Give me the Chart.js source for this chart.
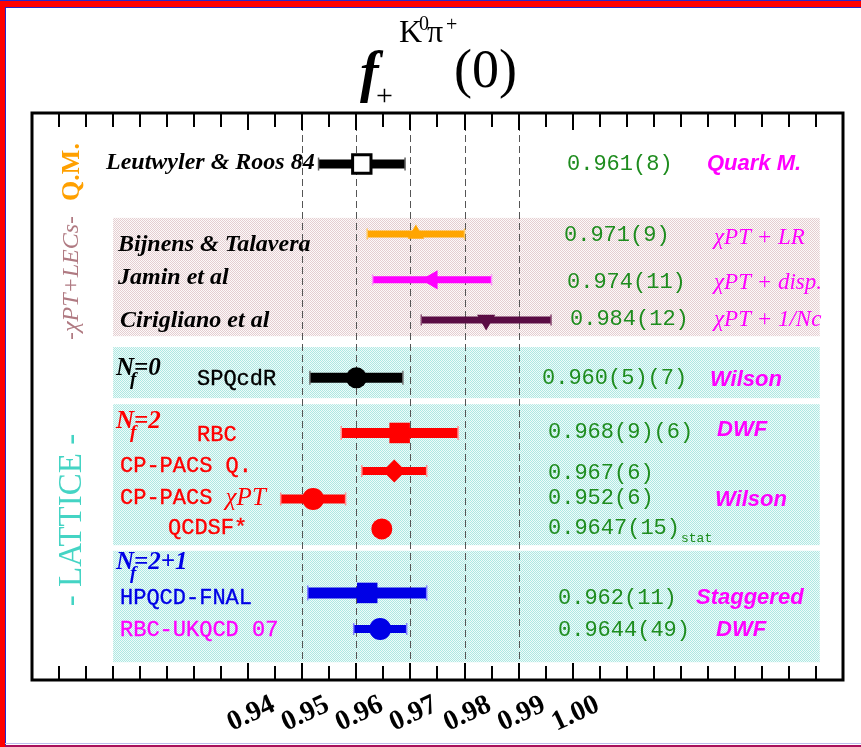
<!DOCTYPE html>
<html>
<head>
<meta charset="utf-8">
<title>f+(0) K0 pi+</title>
<script src="https://cdn.jsdelivr.net/npm/chart.js@4.4.1/dist/chart.umd.min.js"></script>
<style>
  html, body { margin: 0; padding: 0; background: #fff; }
  canvas { display: block; }
</style>
</head>
<body>
<canvas id="fplus" width="861" height="747"></canvas>
<script>
// determinations of f+(0), top to bottom
const entries = ['Leutwyler & Roos 84', 'Bijnens & Talavera', 'Jamin et al', 'Cirigliano et al',
                 'SPQcdR', 'RBC', 'CP-PACS Q.', 'CP-PACS ', 'QCDSF*', 'HPQCD-FNAL', 'RBC-UKQCD 07'];
const central = [0.961, 0.971, 0.974, 0.984, 0.960, 0.968, 0.967, 0.952, 0.9647, 0.962, 0.9644];
const errors  = [0.008, 0.009, 0.011, 0.012, 0.0086, 0.0108, 0.006, 0.006, 0.0015, 0.011, 0.0049];
const quoted  = ['0.961(8)', '0.971(9)', '0.974(11)', '0.984(12)', '0.960(5)(7)', '0.968(9)(6)',
                 '0.967(6)', '0.952(6)', '0.9647(15)', '0.962(11)', '0.9644(49)'];
const methods = ['Quark M.', 'χPT + LR', 'χPT + disp.', 'χPT + 1/Nc', 'Wilson', 'DWF',
                 '', 'Wilson', '', 'Staggered', 'DWF'];
// row slot on the vertical axis (0 = top of frame)
const rowPos  = [1.26, 2.99, 4.12, 5.11, 6.54, 7.90, 8.84, 9.53, 10.27, 11.85, 12.74];
const xTicks  = [0.94, 0.95, 0.96, 0.97, 0.98, 0.99, 1.00];
const guides  = [0.95, 0.96, 0.97, 0.98, 0.99];

// look of each row
const serifBI = 'bold italic 24px "Liberation Serif"';
const mono = '22px "Liberation Mono"';
const rowStyle = [
  {color: '#000000', cap: '#606060', width: 9,  marker: 'rect',     r: 13,   rot: 0,   fill: '#ffffff', bw: 3},
  {color: '#ffa500', cap: '#ffc860', width: 7,  marker: 'triangle', r: 9.5,  rot: 0},
  {color: '#ff00ff', cap: '#ff90ff', width: 7,  marker: 'triangle', r: 11,   rot: -90},
  {color: '#5a0c44', cap: '#8a4c74', width: 7,  marker: 'triangle', r: 10.5, rot: 180},
  {color: '#000000', cap: '#707070', width: 10, marker: 'circle',   r: 10.5, rot: 0},
  {color: '#ff0000', cap: '#ff9090', width: 10, marker: 'rect',     r: 14.5, rot: 0},
  {color: '#ff0000', cap: '#ff9090', width: 8,  marker: 'rectRot',  r: 11.5, rot: 0},
  {color: '#ff0000', cap: '#ff9090', width: 9,  marker: 'circle',   r: 11,   rot: 0},
  {color: '#ff0000', cap: '#ff9090', width: 8,  marker: 'circle',   r: 10.5, rot: 0},
  {color: '#0000e6', cap: '#8080ff', width: 11, marker: 'rect',     r: 14.5, rot: 0},
  {color: '#0000e6', cap: '#8080ff', width: 8,  marker: 'circle',   r: 11,   rot: 0}
];
// heavy: thin outline to thicken the Courier-style labels a little
const labelStyle = [
  {x: 106, dy: -1, font: serifBI, color: '#000'},
  {x: 118, dy: 11, font: serifBI, color: '#000'},
  {x: 118, dy: -2, font: serifBI, color: '#000'},
  {x: 120, dy: 1,  font: serifBI, color: '#000'},
  {x: 197, dy: 1,  font: mono, color: '#000', heavy: true},
  {x: 197, dy: 2,  font: mono, color: '#ff0000', heavy: true},
  {x: 120, dy: -5, font: mono, color: '#ff0000', heavy: true},
  {x: 120, dy: -1, font: mono, color: '#ff0000', heavy: true},
  {x: 168, dy: -1, font: mono, color: '#ff0000', heavy: true},
  {x: 120, dy: 5,  font: mono, color: '#0000e6', heavy: true},
  {x: 120, dy: 1,  font: mono, color: '#ff00ff', heavy: true}
];
const valueStyle = [
  {x: 567, dy: 0}, {x: 564, dy: 1}, {x: 567, dy: 2}, {x: 570, dy: -1}, {x: 542, dy: 0},
  {x: 548, dy: -1}, {x: 548, dy: 2}, {x: 548, dy: -1}, {x: 548, dy: -1}, {x: 558, dy: 5}, {x: 558, dy: 1}
];
const sansBI = 'bold italic 22px "Liberation Sans"';
const serifI = 'italic 23px "Liberation Serif"';
const methodStyle = [
  {x: 707, dy: 0, font: sansBI}, {x: 714, dy: 4, font: serifI}, {x: 714, dy: 3, font: serifI},
  {x: 714, dy: 0, font: serifI}, {x: 710, dy: 2, font: sansBI}, {x: 717, dy: -3, font: sansBI},
  null, {x: 715, dy: 1, font: sansBI}, null, {x: 696, dy: 5, font: sansBI}, {x: 716, dy: 1, font: sansBI}
];
// shaded groups (slot units) spanning this value range
const bandX = [0.915, 1.0457];
const bands = [
  {from: 2.59, to: 5.51, dot: '#e4ced1', bg: '#fdf9f9'},
  {from: 5.78, to: 7.04, dot: '#aee8e2', bg: '#effbfa'},
  {from: 7.19, to: 10.67, dot: '#aee8e2', bg: '#effbfa'},
  {from: 10.81, to: 13.56, dot: '#aee8e2', bg: '#effbfa'}
];

function stipple(ctx, dot, bg) {
  const c = document.createElement('canvas');
  c.width = 2; c.height = 2;
  const g = c.getContext('2d');
  g.fillStyle = bg; g.fillRect(0, 0, 2, 2);
  g.fillStyle = dot; g.fillRect(0, 0, 1, 1); g.fillRect(1, 1, 1, 1);
  return ctx.createPattern(c, 'repeat');
}

function txt(ctx, s, x, y, font, color, align, heavy) {
  ctx.font = font;
  ctx.fillStyle = color;
  ctx.textAlign = align || 'left';
  ctx.fillText(s, x, y);
  if (heavy) {
    ctx.strokeStyle = color;
    ctx.lineWidth = 0.35;
    ctx.strokeText(s, x, y);
  }
  return ctx.measureText(s).width;
}

const decorations = {
  id: 'decorations',
  beforeDraw(chart) {
    const ctx = chart.ctx, W = chart.width, H = chart.height;
    ctx.save();
    ctx.fillStyle = '#ffffff';
    ctx.fillRect(0, 0, W, H);
    ctx.fillStyle = '#ff0000';
    ctx.fillRect(0, 0, W, 7);
    ctx.fillRect(0, 0, 5, H);
    ctx.fillStyle = '#2828c8';
    ctx.fillRect(0, 0, W, 1);
    ctx.fillRect(5, 7, W - 5, 1);
    ctx.fillRect(5, 7, 1, H - 7);
    ctx.fillStyle = '#bcbcec';
    ctx.fillRect(5, H - 4, W - 5, 1);
    ctx.fillStyle = '#a8105c';
    ctx.fillRect(5, H - 2, W - 5, 2);
    ctx.restore();
  },
  beforeDatasetsDraw(chart) {
    const ctx = chart.ctx, xs = chart.scales.x, ys = chart.scales.y, a = chart.chartArea;
    ctx.save();
    const x0 = xs.getPixelForValue(bandX[0]), x1 = xs.getPixelForValue(bandX[1]);
    bands.forEach(b => {
      const y0 = ys.getPixelForValue(b.from), y1 = ys.getPixelForValue(b.to);
      ctx.fillStyle = stipple(ctx, b.dot, b.bg);
      ctx.fillRect(x0, y0, x1 - x0, y1 - y0);
    });
    // dashed guides
    ctx.strokeStyle = '#555555';
    ctx.lineWidth = 1;
    ctx.setLineDash([7, 4]);
    guides.forEach(v => {
      const x = Math.round(xs.getPixelForValue(v)) + 0.5;
      ctx.beginPath();
      ctx.moveTo(x, a.top);
      ctx.lineTo(x, a.bottom);
      ctx.stroke();
    });
    ctx.restore();
  },
  afterDatasetsDraw(chart) {
    const ctx = chart.ctx, xs = chart.scales.x, ys = chart.scales.y, a = chart.chartArea;
    ctx.save();
    // frame and inward ticks, every 0.005
    ctx.strokeStyle = '#000';
    ctx.lineWidth = 3;
    ctx.strokeRect(a.left, a.top, a.right - a.left, a.bottom - a.top);
    ctx.lineWidth = 2;
    for (let k = 181; k <= 209; k++) {
      const v = k * 0.005;
      const x = Math.round(xs.getPixelForValue(v));
      const len = (k % 2 === 0 && k >= 188 && k <= 200) ? 17 : 14;
      ctx.beginPath();
      ctx.moveTo(x, a.top); ctx.lineTo(x, a.top + len);
      ctx.moveTo(x, a.bottom); ctx.lineTo(x, a.bottom - len);
      ctx.stroke();
    }
    ctx.textBaseline = 'middle';
    // tick labels, tilted
    xTicks.forEach(v => {
      ctx.save();
      ctx.translate(xs.getPixelForValue(v) + 3, a.bottom + 34);
      ctx.rotate(-25 * Math.PI / 180);
      txt(ctx, v.toFixed(2), 0, 0, 'bold 28px "Liberation Serif"', '#000', 'center');
      ctx.restore();
    });

    // title f+^{K0 pi+}(0)
    ctx.textBaseline = 'alphabetic';
    txt(ctx, 'f', 360, 91, 'bold italic 56px "Liberation Serif"', '#000');
    txt(ctx, '+', 376, 105, '30px "Liberation Serif"', '#000');
    txt(ctx, 'K', 399, 42, '32px "Liberation Serif"', '#000');
    txt(ctx, '0', 419, 30, '20px "Liberation Serif"', '#000');
    txt(ctx, 'π', 427, 42, '32px "Liberation Serif"', '#000');
    txt(ctx, '+', 446, 31, '20px "Liberation Serif"', '#000');
    txt(ctx, '(0)', 454, 87, '54px "Liberation Serif"', '#000');

    // group captions along the left side
    ctx.textBaseline = 'middle';
    const side = (s, y, font, color) => {
      ctx.save();
      ctx.translate(72, y);
      ctx.rotate(-Math.PI / 2);
      txt(ctx, s, 0, 0, font, color, 'center');
      ctx.restore();
    };
    side('Q.M.', 172, 'bold 26px "Liberation Serif"', '#ffa000');
    side('-χPT+LECs-', 278, 'italic 24px "Liberation Serif"', '#b07a82');
    side('- LATTICE -', 520, '33px "Liberation Serif"', '#44d4c4');

    // flavour headings
    const nf = (y, rest, color) => {
      const f = 'bold italic 25px "Liberation Serif"';
      const w = txt(ctx, 'N', 116, y, f, color);
      txt(ctx, 'f', 116 + w - 4, y + 11, 'bold italic 19px "Liberation Serif"', color);
      txt(ctx, rest, 116 + w, y, f, color);
    };
    nf(369, '=0', '#000');
    nf(422, '=2', '#ff0000');
    nf(563, '=2+1', '#0000e6');

    // per-row text
    entries.forEach((name, i) => {
      const y = ys.getPixelForValue(rowPos[i]);
      const ls = labelStyle[i];
      const w = txt(ctx, name, ls.x, y + ls.dy, ls.font, ls.color, 'left', ls.heavy);
      if (i === 7) txt(ctx, 'χPT', ls.x + w, y + ls.dy, 'italic 25px "Liberation Serif"', ls.color);
      const vs = valueStyle[i];
      const vw = txt(ctx, quoted[i], vs.x, y + vs.dy, mono, '#1e8c1e');
      if (i === 8) txt(ctx, 'stat', vs.x + vw + 1, y + vs.dy + 11, '13px "Liberation Mono"', '#1e8c1e');
      const ms = methodStyle[i];
      if (ms) txt(ctx, methods[i], ms.x, y + ms.dy, ms.font, '#ff00ff');
    });
    ctx.restore();
  }
};

// one dataset for the markers, one per error bar
const datasets = [{
  label: 'central',
  order: 0,
  data: central.map((c, i) => ({x: c, y: rowPos[i]})),
  pointStyle: rowStyle.map(s => s.marker),
  pointRadius: rowStyle.map(s => s.r),
  rotation: rowStyle.map(s => s.rot),
  backgroundColor: rowStyle.map(s => s.fill || s.color),
  borderColor: rowStyle.map(s => s.color),
  borderWidth: rowStyle.map(s => s.bw || 0),
  clip: false
}];
central.forEach((c, i) => {
  const s = rowStyle[i];
  datasets.push({
    label: entries[i],
    order: 1,
    showLine: true,
    data: [{x: c - errors[i], y: rowPos[i]}, {x: c + errors[i], y: rowPos[i]}],
    borderColor: s.color,
    borderWidth: s.width,
    borderCapStyle: 'butt',
    pointStyle: 'line',
    rotation: 90,
    pointRadius: s.width / 2 + 2,
    pointBorderColor: s.cap,
    pointBorderWidth: 1.5,
    clip: false
  });
});

new Chart(document.getElementById('fplus').getContext('2d'), {
  type: 'scatter',
  data: {datasets: datasets},
  options: {
    responsive: false,
    animation: false,
    events: [],
    layout: {padding: {left: 32, top: 113, right: 18, bottom: 67}},
    plugins: {legend: {display: false}, tooltip: {enabled: false}},
    scales: {
      x: {type: 'linear', display: false, min: 0.90, max: 1.05},
      y: {type: 'linear', display: false, min: 0, max: 14, reverse: true}
    }
  },
  plugins: [decorations]
});
</script>
</body>
</html>
